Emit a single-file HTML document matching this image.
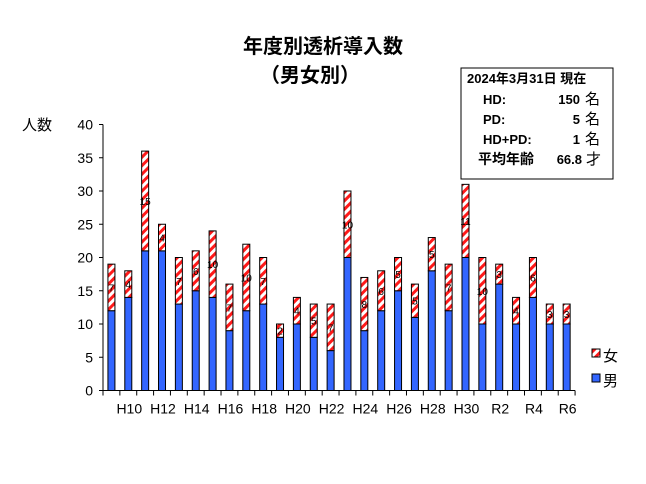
<!DOCTYPE html>
<html><head><meta charset="utf-8"><style>
body{margin:0;background:#fff}
svg{display:block;font-family:"Liberation Sans","Noto Sans CJK JP",sans-serif}
</style></head><body>
<svg width="646" height="484" viewBox="0 0 646 484">
<defs>
<pattern id="st" width="6" height="6" patternUnits="userSpaceOnUse" patternTransform="rotate(45)">
<rect width="6" height="6" fill="#fff"/><rect width="3" height="6" fill="#ff1a1a"/>
</pattern>
</defs>
<text x="323" y="53" font-size="20" font-weight="bold" text-anchor="middle">年度別透析導入数</text>
<text x="310" y="82" font-size="20" font-weight="bold" text-anchor="middle">（男女別）</text>
<rect x="461" y="68" width="152" height="111" fill="#fff" stroke="#000" stroke-width="1"/>
<g font-size="13" font-weight="bold">
<text x="467" y="83">2024年3月31日  現在</text>
<text x="483" y="104">HD:</text><text x="580" y="104" text-anchor="end">150</text><text x="585" y="104" font-weight="normal" font-size="15">名</text>
<text x="483" y="124">PD:</text><text x="580" y="124" text-anchor="end">5</text><text x="585" y="124" font-weight="normal" font-size="15">名</text>
<text x="483" y="144">HD+PD:</text><text x="580" y="144" text-anchor="end">1</text><text x="585" y="144" font-weight="normal" font-size="15">名</text>
<text x="478" y="164" font-size="14">平均年齢</text><text x="582" y="164" text-anchor="end">66.8</text><text x="586" y="164" font-weight="normal" font-size="15">才</text>
</g>
<text x="22" y="130" font-size="15">人数</text>
<g id="ax" stroke="#000" stroke-width="1"></g>
<g id="bars"></g>
<g font-size="13">
<rect x="592" y="349" width="8" height="8" fill="url(#st)" stroke="#000"/>
<text x="603" y="361" font-size="15">女</text>
<rect x="592" y="374" width="8" height="8" fill="#3366ff" stroke="#000"/>
<text x="603" y="386" font-size="15">男</text>
</g>
</svg>
<script>
const tot=[19,18,36,25,20,21,24,16,22,20,10,14,13,13,30,17,18,20,16,23,19,31,20,19,14,20,13,13];
const men=[12,14,21,21,13,15,14,9,12,13,8,10,8,6,20,9,12,15,11,18,12,20,10,16,10,14,10,10];
const ns="http://www.w3.org/2000/svg";
const y0=390.5,s=6.65,x0=103,cw=16.86,bw=7;
const ax=document.getElementById('ax'),bars=document.getElementById('bars');
function el(t,a,p,txt){const e=document.createElementNS(ns,t);for(const k in a)e.setAttribute(k,a[k]);if(txt!=null)e.textContent=txt;p.appendChild(e);return e;}
el('line',{x1:x0,y1:y0-40*s,x2:x0,y2:y0},ax);
el('line',{x1:x0,y1:y0,x2:x0+28*cw,y2:y0},ax);
for(let v=0;v<=40;v+=5){const y=y0-v*s;el('line',{x1:x0-4,y1:y,x2:x0,y2:y},ax);
el('text',{x:x0-10,y:y+5,'font-size':14,'text-anchor':'end',stroke:'none'},ax,v);}
for(let i=0;i<=28;i++){const x=x0+i*cw;el('line',{x1:x,y1:y0,x2:x,y2:y0+5},ax);}
const labs={1:'H10',3:'H12',5:'H14',7:'H16',9:'H18',11:'H20',13:'H22',15:'H24',17:'H26',19:'H28',21:'H30',23:'R2',25:'R4',27:'R6'};
for(let i=0;i<28;i++){
const cx=x0+cw*(i+0.5),x=cx-bw/2;
const ym=y0-men[i]*s,yt=y0-tot[i]*s;
el('rect',{x:x,y:ym,width:bw,height:men[i]*s,fill:'#3366ff',stroke:'#000','stroke-width':1},bars);
el('rect',{x:x,y:yt,width:bw,height:(tot[i]-men[i])*s,fill:'url(#st)',stroke:'#000','stroke-width':1},bars);
const f=tot[i]-men[i];
el('text',{x:cx,y:(ym+yt)/2+4,'font-size':10,'text-anchor':'middle',fill:'#000'},bars,f);
if(labs[i])el('text',{x:cx+1,y:y0+23,'font-size':14,'text-anchor':'middle'},bars,labs[i]);
}
</script>
</body></html>
